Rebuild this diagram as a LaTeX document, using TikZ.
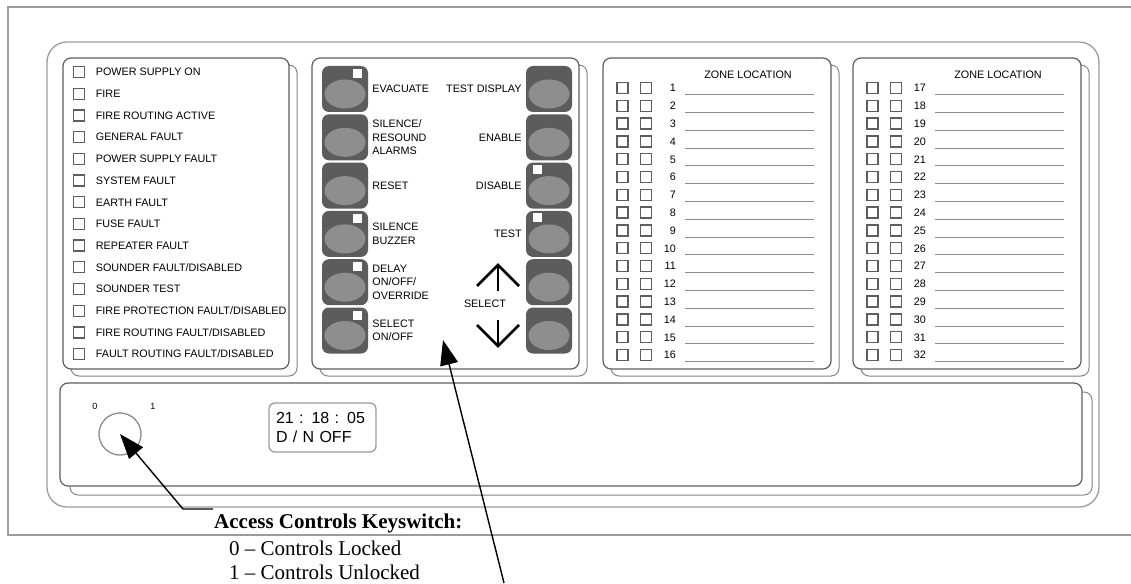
\documentclass[tikz,border=0pt]{standalone}
\usepackage{fontspec}
\setmainfont{Liberation Serif}
\setsansfont{Liberation Sans}
\usetikzlibrary{
positioning,
arrows.meta,
calc
}
\definecolor{framegray}{HTML}{9C9C9C}
\definecolor{edgegray}{HTML}{5E5E5E}
\definecolor{shadegray}{HTML}{858585}
\definecolor{btngray}{HTML}{5C5C5C}
\definecolor{facegray}{HTML}{8E8E8E}
\definecolor{rulegray}{HTML}{8C8C8C}
\tikzset{
panel/.style={
draw=edgegray,
line width=1.2pt,
rounded corners=8pt,
fill=white
},
shadepanel/.style={
draw=shadegray,
line width=1pt,
rounded corners=8pt,
fill=white
},
ledbox/.style={
draw=edgegray,
line width=1.3pt,
minimum size=11pt,
inner sep=0pt
},
btn/.style={
fill=btngray,
rounded corners=7pt,
minimum size=46pt,
inner sep=0pt
},
btnface/.style={
fill=facegray
},
btnled/.style={
fill=white,
minimum size=9pt,
inner sep=0pt
},
lbl/.style={
font=\sffamily\fontsize{10.8}{13.5}\selectfont,
inner sep=0pt
},
ledlbl/.style={
lbl,
text height=7.7pt,
text depth=0pt
},
zonerule/.style={
draw=rulegray,
line width=0.8pt
},
chevron/.style={
line width=2.6pt
},
captext/.style={
font=\fontsize{21}{24}\selectfont,
inner sep=0pt,
anchor=west
},
callout/.style={
-{Triangle[length=25pt,width=18pt]},
line width=1.4pt
}
}

\begin{document}
\begin{tikzpicture}[x=1pt,y=-1pt]
\useasboundingbox (0,0) rectangle (1131,583);

% frame and housing
\draw[framegray, line width=1.4pt] (1131,7) -| (8,535) -- (1131,535);
\draw[framegray, line width=1.3pt, rounded corners=20pt] (47,42) rectangle (1099,507);

% panels with their shadows
\draw[shadepanel] (71,65) rectangle (297,376);
\draw[panel] (63,58) rectangle (289,369);
\draw[shadepanel] (320,65) rectangle (587,376);
\draw[panel] (312,58) rectangle (579,369);
\draw[shadepanel] (611,65) rectangle (839,376);
\draw[panel] (603,58) rectangle (831,369);
\draw[shadepanel] (861,65) rectangle (1089,376);
\draw[panel] (853,58) rectangle (1081,369);
\draw[shadepanel] (70,392) rectangle (1092,495);
\draw[panel] (60,383) rectangle (1082,486);

% status indicators
\foreach \txt [count=\i from 0] in {POWER SUPPLY ON, FIRE, FIRE ROUTING ACTIVE,
  GENERAL FAULT, POWER SUPPLY FAULT, SYSTEM FAULT, EARTH FAULT, FUSE FAULT,
  REPEATER FAULT, {SOUNDER FAULT/DISABLED}, SOUNDER TEST,
  {FIRE PROTECTION FAULT/DISABLED}, {FIRE ROUTING FAULT/DISABLED},
  {FAULT ROUTING FAULT/DISABLED}} {
  \node[ledbox] (ind\i) at (79,{72+21.7*\i}) {};
  \node[ledlbl, right=10.5pt of ind\i] (indlbl\i) {\txt};
}

% control buttons
\foreach \bn/\col/\row in {btnevac/345/0, btnsil/345/1, btnreset/345/2,
  btnbuzz/345/3, btndelay/345/4, btnsel/345/5, btndisp/549/0, btnenable/549/1,
  btndisable/549/2, btntest/549/3, btnup/549/4, btndown/549/5} {
  \node[btn] (\bn) at (\col,{89+48.3*\row}) {};
  \fill[btnface] ([yshift=-5pt]\bn.center) ellipse [x radius=20.5pt, y radius=14.5pt];
}
\foreach \bn in {btnevac, btnbuzz, btndelay, btnsel}
  \node[btnled, below left=3pt and 6pt of \bn.north east] (\bn led) {};
\foreach \bn in {btndisable, btntest}
  \node[btnled, below right=2.5pt and 7pt of \bn.north west] (\bn led) {};

\node[lbl, right=4pt of btnevac] (lblevac) {EVACUATE};
\node[lbl, align=left, right=4pt of btnsil] (lblsil) {SILENCE/\\RESOUND\\ALARMS};
\node[lbl, right=4pt of btnreset] (lblreset) {RESET};
\node[lbl, align=left, right=4pt of btnbuzz] (lblbuzz) {SILENCE\\BUZZER};
\node[lbl, align=left, right=4pt of btndelay] (lbldelay) {DELAY\\ON/OFF/\\OVERRIDE};
\node[lbl, align=left, right=4pt of btnsel] (lblsel) {SELECT\\ON/OFF};
\node[lbl, left=4pt of btndisp] (lbldisp) {TEST DISPLAY};
\node[lbl, left=4pt of btnenable] (lblenable) {ENABLE};
\node[lbl, left=4pt of btndisable] (lbldisable) {DISABLE};
\node[lbl, left=4pt of btntest] (lbltest) {TEST};
\node[lbl] (lblselect) at (485,304) {SELECT};

% select arrows
\draw[chevron] (498,266) -- (498,291);
\draw[chevron, line join=miter] (477,286) -- (498,265) -- (519,286);
\draw[chevron] (498,320) -- (498,345);
\draw[chevron, line join=miter] (477,325) -- (498,346) -- (519,325);

% zone location panels
\foreach \dx/\first/\zp in {0/1/za, 250/17/zb} {
  \node[lbl] (\zp head) at ({748+\dx},75) {ZONE LOCATION};
  \foreach \r in {0,...,15} {
    \pgfmathtruncatemacro{\zn}{\first+\r}
    \node[ledbox] (\zp led\r a) at ({622.5+\dx},{88+17.8*\r}) {};
    \node[ledbox] (\zp led\r b) at ({646+\dx},{88+17.8*\r}) {};
    \node[ledlbl, anchor=east] (\zp num\r) at ({676+\dx},{88+17.8*\r}) {\zn};
    \draw[zonerule] ([xshift=9pt,yshift=-6.5pt]\zp num\r.east) -- ++(129,0);
  }
}

% keyswitch and clock
\node[draw=rulegray, line width=1.3pt, circle, minimum size=42pt] (keysw) at (120,434) {};
\node[lbl, font=\sffamily\fontsize{9}{11}\selectfont] (keyzero) at (95,406) {0};
\node[lbl, font=\sffamily\fontsize{9}{11}\selectfont] (keyone) at (153,406) {1};
\node[draw=framegray, line width=1.3pt, rounded corners=6pt,
  minimum width=107pt, minimum height=49pt, text width=93pt, align=left,
  font=\sffamily\fontsize{16}{19}\selectfont] (clock) at (322.5,427.5)
  {21 : 18 : 05\\D / N OFF};

% captions
\node[captext, font=\bfseries\fontsize{21}{24}\selectfont] (kscap) at (214,523) {Access Controls Keyswitch:};
\node[captext] (kslock) at (229,548) {0 -- Controls Locked};
\node[captext] (ksunlock) at (229,572) {1 -- Controls Unlocked};

\coordinate (kslead) at (213,509);
\draw[callout] (kslead) -- ++(-30,0) -- (keysw.center);
\coordinate (selfoot) at (504,583);
\coordinate (seltip) at (443,340);
\draw[callout] (selfoot) -- (seltip);

\end{tikzpicture}
\end{document}
